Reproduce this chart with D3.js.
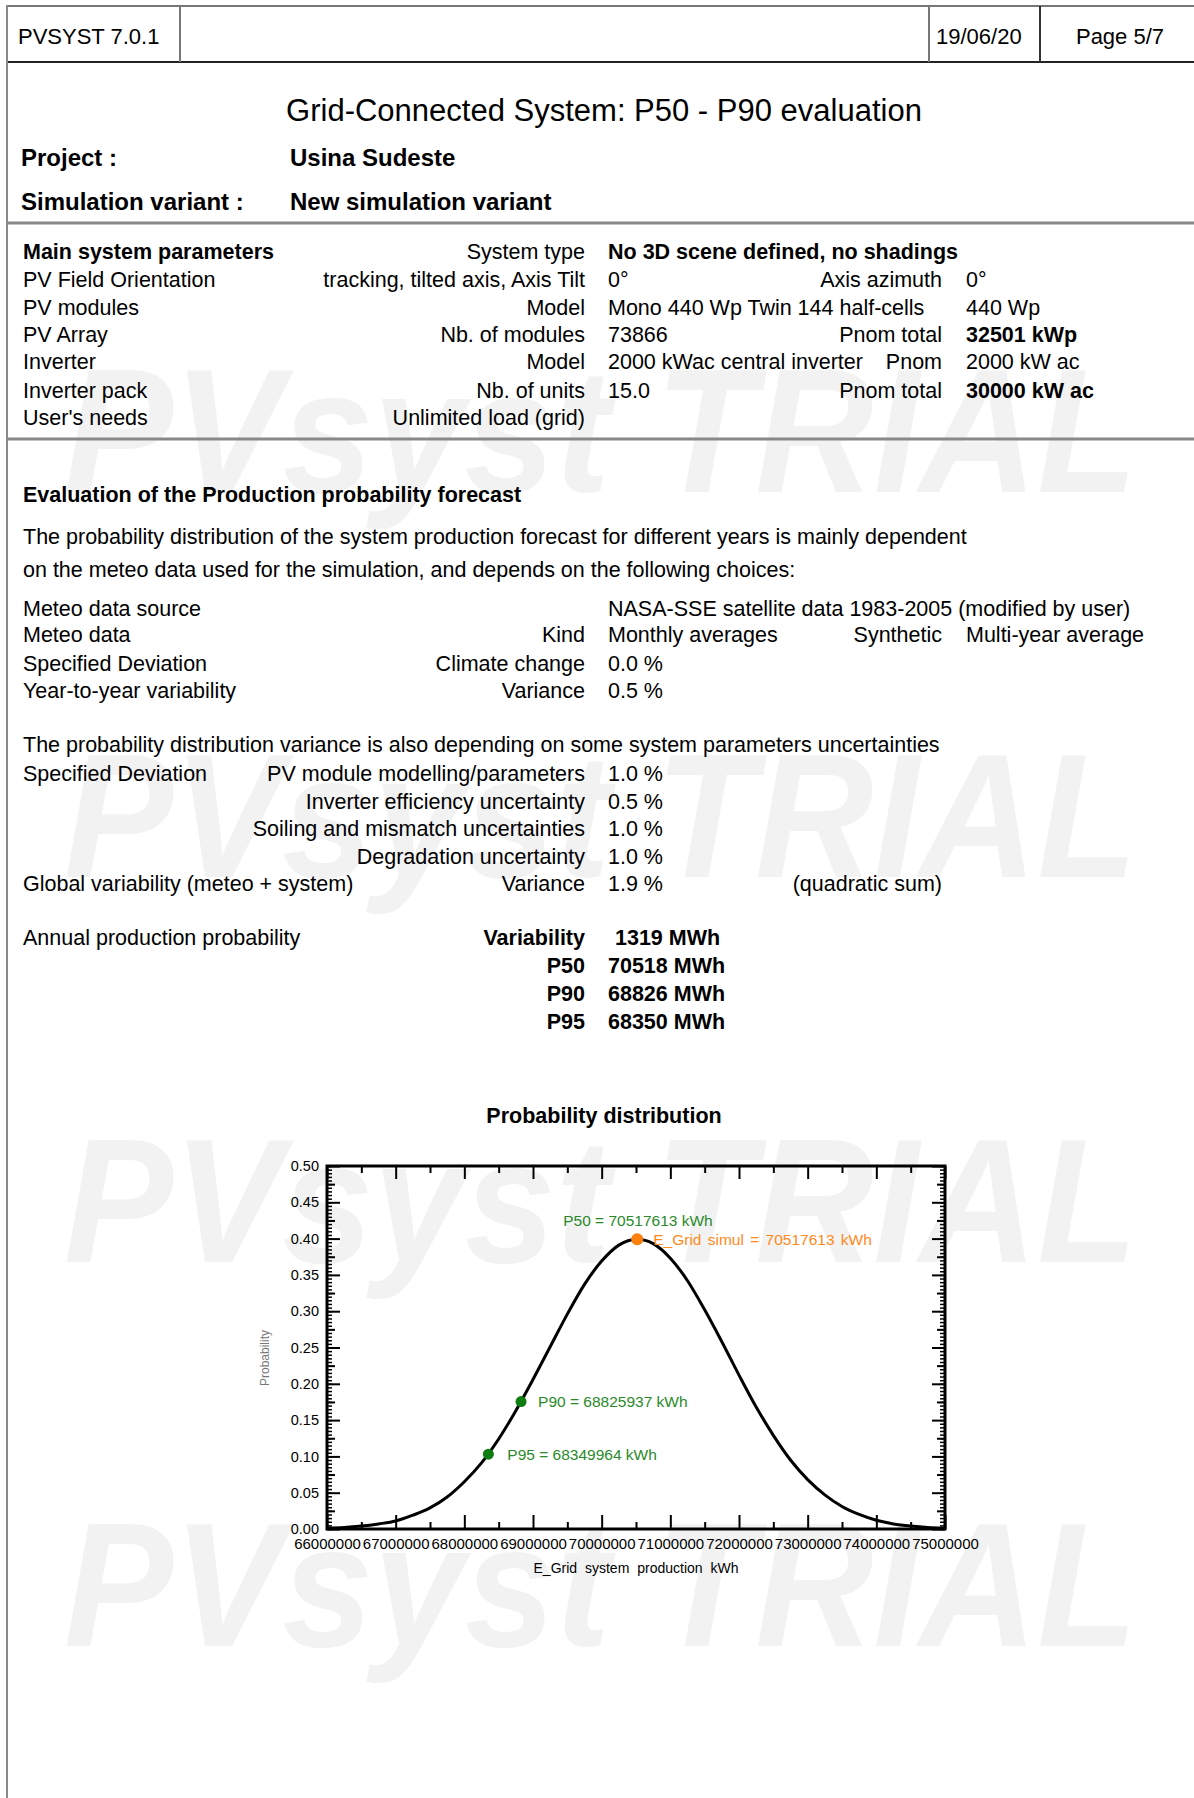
<!DOCTYPE html>
<html><head><meta charset="utf-8">
<script src="https://cdn.jsdelivr.net/npm/d3@7"></script>
<style>
body{margin:0;background:#fff}
svg{display:block}
text{font-family:"Liberation Sans",Arial,Helvetica,sans-serif;fill:#000}
</style>
</head><body>
<svg id="page" width="1194" height="1798"></svg>
<script>
// ---------------- DATA ----------------
const xTickValues = [66000000, 67000000, 68000000, 69000000, 70000000, 71000000, 72000000, 73000000, 74000000, 75000000];
const yTickValues = [0.00, 0.05, 0.10, 0.15, 0.20, 0.25, 0.30, 0.35, 0.40, 0.45, 0.50];
const energyKWh = [66000000, 66250000, 66500000, 66750000, 67000000, 67250000, 67500000, 67750000, 68000000, 68250000, 68500000, 68750000, 69000000, 69250000, 69500000, 69750000, 70000000, 70250000, 70517613, 70750000, 71000000, 71250000, 71500000, 71750000, 72000000, 72250000, 72500000, 72750000, 73000000, 73250000, 73500000, 73750000, 74000000, 74250000, 74500000, 74750000, 75000000];
const probability = [0.001, 0.002, 0.004, 0.007, 0.011, 0.019, 0.029, 0.044, 0.065, 0.091, 0.124, 0.163, 0.206, 0.251, 0.296, 0.337, 0.369, 0.391, 0.399, 0.393, 0.373, 0.342, 0.302, 0.258, 0.212, 0.168, 0.129, 0.095, 0.068, 0.047, 0.031, 0.020, 0.012, 0.007, 0.004, 0.002, 0.001];
const markerNames = ["P50", "P90", "P95"];
const markerEnergy = [70517613, 68825937, 68349964];
const markerProb = [0.399, 0.1755, 0.103];
const simulName = "E_Grid simul";
const simulEnergy = 70517613;
const simulProb = 0.399;

// ---------------- PAGE ----------------
const svg = d3.select("#page");
const FONT = 21.5;

function T(x, y, s, o = {}) {
  return svg.append("text")
    .attr("x", x).attr("y", y).attr("dy", "0.35em")
    .attr("text-anchor", o.anchor || "start")
    .attr("font-size", o.size || FONT)
    .attr("font-weight", o.bold ? "bold" : "normal")
    .style("fill", o.fill || "#000")
    .text(s);
}

// watermark
[492, 877, 1262, 1646].forEach(b => {
  svg.append("text").attr("transform", `translate(64,${b}) scale(0.93,1)`)
    .attr("font-size", 176).attr("font-weight", "bold").attr("font-style", "italic")
    .style("fill", "#f2f2f2").text("PVsyst TRIAL");
});

// frame lines
const line = (x1, y1, x2, y2, c = "#666", w = 2) => svg.append("line")
  .attr("x1", x1).attr("y1", y1).attr("x2", x2).attr("y2", y2)
  .attr("stroke", c).attr("stroke-width", w);
line(7, 6, 1194, 6, "#777", 2);
line(7, 62, 1194, 62, "#222", 2);
line(7, 5, 7, 1798, "#888", 2);
line(180, 6, 180, 62, "#777", 2);
line(929, 6, 929, 62, "#777", 2);
line(1040, 6, 1040, 62, "#333", 2);
line(7, 223, 1194, 223, "#888", 3);
line(7, 439, 1194, 439, "#888", 3);

// header
T(18, 36, "PVSYST 7.0.1", {size: 22});
T(936, 36, "19/06/20", {size: 22});
T(1120, 36, "Page 5/7", {size: 22, anchor: "middle"});
T(604, 110, "Grid-Connected System: P50 - P90 evaluation", {size: 31, anchor: "middle"});
T(21, 158, "Project :", {size: 24, bold: true});
T(290, 158, "Usina Sudeste", {size: 24, bold: true});
T(21, 202, "Simulation variant :", {size: 24, bold: true});
T(290, 202, "New simulation variant", {size: 24, bold: true});

// columns
const C1 = 23, C2 = 585, C3 = 608, C4 = 942, C5 = 966;
function row(y, a, b, c, d, e, bold = {}) {
  if (a) T(C1, y, a, {bold: bold.a});
  if (b) T(C2, y, b, {anchor: "end", bold: bold.b});
  if (c) T(C3, y, c, {bold: bold.c});
  if (d) T(C4, y, d, {anchor: "end", bold: bold.d});
  if (e) T(C5, y, e, {bold: bold.e});
}
row(251, "Main system parameters", "System type", "No 3D scene defined, no shadings", "", "", {a: true, c: true});
row(279, "PV Field Orientation", "tracking, tilted axis, Axis Tilt", "0°", "Axis azimuth", "0°");
row(307, "PV modules", "Model", "Mono 440 Wp Twin 144 half-cells", "", "440 Wp");
row(334, "PV Array", "Nb. of modules", "73866", "Pnom total", "32501 kWp", {e: true});
row(361, "Inverter", "Model", "2000 kWac central inverter", "Pnom", "2000 kW ac");
row(390, "Inverter pack", "Nb. of units", "15.0", "Pnom total", "30000 kW ac", {e: true});
row(417, "User's needs", "Unlimited load (grid)", "", "", "");

T(C1, 494, "Evaluation of the Production probability forecast", {bold: true});
T(C1, 536, "The probability distribution of the system production forecast for different years is mainly dependent");
T(C1, 569, "on the meteo data used for the simulation, and depends on the following choices:");
row(608, "Meteo data source", "", "NASA-SSE satellite data 1983-2005 (modified by user)", "", "");
row(634, "Meteo data", "Kind", "Monthly averages", "Synthetic", "Multi-year average");
row(663, "Specified Deviation", "Climate change", "0.0 %", "", "");
row(690, "Year-to-year variability", "Variance", "0.5 %", "", "");

T(C1, 744, "The probability distribution variance is also depending on some system parameters uncertainties");
row(773, "Specified Deviation", "PV module modelling/parameters", "1.0 %", "", "");
row(801, "", "Inverter efficiency uncertainty", "0.5 %", "", "");
row(828, "", "Soiling and mismatch uncertainties", "1.0 %", "", "");
row(856, "", "Degradation uncertainty", "1.0 %", "", "");
row(883, "Global variability (meteo + system)", "Variance", "1.9 %", "(quadratic sum)", "");

row(937, "Annual production probability", "Variability", "", "", "", {b: true});
T(615, 937, "1319 MWh", {bold: true});
row(965, "", "P50", "70518 MWh", "", "", {b: true, c: true});
row(993, "", "P90", "68826 MWh", "", "", {b: true, c: true});
row(1021, "", "P95", "68350 MWh", "", "", {b: true, c: true});

// ---------------- CHART ----------------
T(604, 1115, "Probability distribution", {bold: true, anchor: "middle"});

const L = 327, R = 945, TOP = 1166, BOT = 1529;
const x = d3.scaleLinear().domain([66000000, 75000000]).range([L, R]);
const y = d3.scaleLinear().domain([0, 0.5]).range([BOT, TOP]);

const halfTicks = d3.range(66500000, 75000000, 1000000);
const yMinor = d3.range(0, 0.5001, 0.005);
const yMid = d3.range(0.025, 0.5, 0.05);

function styleAxis(g) {
  g.select(".domain").remove();
  g.selectAll(".tick line").attr("stroke", "#000").attr("stroke-width", 2);
  g.selectAll("text").style("font-family", '"Liberation Sans",Arial,sans-serif').style("fill", "#000");
}
function ticksOnly(g) {
  styleAxis(g);
  g.selectAll("text").remove();
}

const chart = svg.append("g");
// bottom
chart.append("g").attr("transform", `translate(0,${BOT})`)
  .call(d3.axisBottom(x).tickValues(halfTicks).tickSize(-7))
  .call(ticksOnly);
chart.append("g").attr("transform", `translate(0,${BOT})`)
  .call(d3.axisBottom(x).tickValues(xTickValues).tickSize(-14).tickPadding(9.5).tickFormat(d3.format("d")))
  .call(styleAxis).call(g => g.selectAll("text").attr("font-size", 15));
// top
chart.append("g").attr("transform", `translate(0,${TOP})`)
  .call(d3.axisTop(x).tickValues(xTickValues).tickSize(-13))
  .call(ticksOnly);
chart.append("g").attr("transform", `translate(0,${TOP})`)
  .call(d3.axisTop(x).tickValues(halfTicks).tickSize(-7))
  .call(ticksOnly);
// left
chart.append("g").attr("transform", `translate(${L},0)`)
  .call(d3.axisLeft(y).tickValues(yMinor).tickSize(-5))
  .call(ticksOnly).call(g => g.selectAll(".tick line").attr("stroke-width", 1.5));
chart.append("g").attr("transform", `translate(${L},0)`)
  .call(d3.axisLeft(y).tickValues(yMid).tickSize(-8))
  .call(ticksOnly);
chart.append("g").attr("transform", `translate(${L},0)`)
  .call(d3.axisLeft(y).tickValues(yTickValues).tickSize(-13).tickPadding(8).tickFormat(d3.format(".2f")))
  .call(styleAxis).call(g => g.selectAll("text").attr("font-size", 14.5));
// right
chart.append("g").attr("transform", `translate(${R},0)`)
  .call(d3.axisRight(y).tickValues(yTickValues).tickSize(-13))
  .call(ticksOnly);
chart.append("g").attr("transform", `translate(${R},0)`)
  .call(d3.axisRight(y).tickValues(yMid).tickSize(-8))
  .call(ticksOnly);
chart.append("g").attr("transform", `translate(${R},0)`)
  .call(d3.axisRight(y).tickValues(yMinor).tickSize(-5))
  .call(ticksOnly).call(g => g.selectAll(".tick line").attr("stroke-width", 1.5));

// frame
chart.append("rect").attr("x", L).attr("y", TOP).attr("width", R - L).attr("height", BOT - TOP)
  .attr("fill", "none").attr("stroke", "#000").attr("stroke-width", 3);

// axis titles
chart.append("text").attr("x", (L + R) / 2).attr("y", 1568).attr("dy", "0.35em")
  .attr("text-anchor", "middle").attr("font-size", 14).style("word-spacing", "4px")
  .text("E_Grid system production kWh");
chart.append("text").attr("transform", `translate(265,1358) rotate(-90)`).attr("dy", "0.35em")
  .attr("text-anchor", "middle").attr("font-size", 12).style("fill", "#777")
  .text("Probability");

// curve
const pts = energyKWh.map((e, i) => [e, probability[i]]);
chart.append("path").datum(pts)
  .attr("fill", "none").attr("stroke", "#000").attr("stroke-width", 3)
  .attr("d", d3.line().x(d => x(d[0])).y(d => y(d[1])).curve(d3.curveMonotoneX));

// markers
const GREEN = "#0f7d0f", GREEN_T = "#2a8a2a", ORANGE = "#ff7f0e", ORANGE_T = "#ff8a1c";
const fmt = d3.format("d");
const labelOff = {P50: [-74, -19], P90: [17, 0], P95: [19, 0]};
markerNames.forEach((n, i) => {
  const cx = x(markerEnergy[i]), cy = y(markerProb[i]);
  chart.append("circle").attr("cx", cx).attr("cy", cy).attr("r", 5.5).attr("fill", GREEN);
  chart.append("text").attr("x", cx + labelOff[n][0]).attr("y", cy + labelOff[n][1]).attr("dy", "0.35em")
    .attr("font-size", 15.5).style("fill", GREEN_T)
    .text(`${n} = ${fmt(markerEnergy[i])} kWh`);
});
{
  const cx = x(simulEnergy), cy = y(simulProb);
  chart.append("circle").attr("cx", cx).attr("cy", cy).attr("r", 6).attr("fill", ORANGE);
  chart.append("text").attr("x", cx + 16).attr("y", cy).attr("dy", "0.35em")
    .attr("font-size", 15.5).style("fill", ORANGE_T).style("word-spacing", "2px")
    .text(`${simulName} = ${fmt(simulEnergy)} kWh`);
}
</script>
</body></html>
